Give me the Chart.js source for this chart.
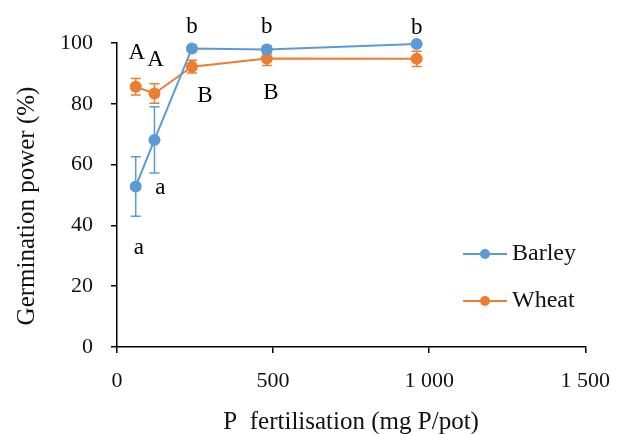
<!DOCTYPE html>
<html>
<head>
<meta charset="utf-8">
<script src="https://cdn.jsdelivr.net/npm/chart.js@4"></script>
<style>
  html, body { margin: 0; padding: 0; background: #fff; }
  #wrap { width: 625px; height: 434px; }
</style>
</head>
<body>
<div id="wrap"><canvas id="germ" width="625" height="434"></canvas></div>
<script>
// P doses (mg P/pot) and germination power (%), mean ± error
const doses = [60, 120, 240, 480, 960];
const barley = [52.8, 68.1, 98.2, 97.9, 99.7];
const barleyErr = [9.8, 10.9, 1.0, 1.2, 0.6];
const wheat = [85.6, 83.4, 92.2, 94.9, 94.8];
const wheatErr = [2.7, 3.2, 2.1, 2.3, 2.5];
// significance letters
const barleyLetters = ["a", "a", "b", "b", "b"];
const wheatLetters = ["A", "A", "B", "B", ""];

const BLUE = "#5B9BD5";
const ORANGE = "#ED7D31";
const FONT = "'Liberation Serif', 'Times New Roman', serif";

const pts = ys => doses.map((x, i) => ({ x: x, y: ys[i] }));

// where each letter sits relative to its point (px)
const letterOffsets = {
  0: [[3, 61], [6, 48], [0, -22], [0, -22], [0, -16]],
  1: [[1, -34], [1, -34], [13, 29], [4, 34], [0, 0]]
};
const errs = { 0: barleyErr, 1: wheatErr };
const letters = { 0: barleyLetters, 1: wheatLetters };

const errorBars = {
  id: "errorBars",
  beforeDatasetsDraw(chart) {
    const ctx = chart.ctx;
    const y = chart.scales.y;
    chart.data.datasets.forEach((ds, di) => {
      const meta = chart.getDatasetMeta(di);
      ctx.save();
      ctx.strokeStyle = ds.borderColor;
      ctx.lineWidth = 1.5;
      meta.data.forEach((p, i) => {
        const e = errs[di][i];
        const top = y.getPixelForValue(ds.data[i].y + e);
        const bot = y.getPixelForValue(ds.data[i].y - e);
        ctx.beginPath();
        ctx.moveTo(p.x, top); ctx.lineTo(p.x, bot);
        ctx.moveTo(p.x - 5, top); ctx.lineTo(p.x + 5, top);
        ctx.moveTo(p.x - 5, bot); ctx.lineTo(p.x + 5, bot);
        ctx.stroke();
      });
      ctx.restore();
    });
  }
};

const letterLabels = {
  id: "letterLabels",
  afterDatasetsDraw(chart) {
    const ctx = chart.ctx;
    ctx.save();
    ctx.fillStyle = "#000";
    ctx.font = "23px " + FONT;
    ctx.textAlign = "center";
    ctx.textBaseline = "middle";
    chart.data.datasets.forEach((ds, di) => {
      chart.getDatasetMeta(di).data.forEach((p, i) => {
        const t = letters[di][i];
        if (!t) return;
        const off = letterOffsets[di][i];
        ctx.fillText(t, p.x + off[0], p.y + off[1]);
      });
    });
    ctx.restore();
  }
};

// y title sits a little below the axis middle, so it is drawn by hand
const yTitle = {
  id: "yTitle",
  afterDraw(chart) {
    const ctx = chart.ctx;
    ctx.save();
    ctx.translate(27, 206);
    ctx.rotate(-Math.PI / 2);
    ctx.font = "25px " + FONT;
    ctx.fillStyle = "#111";
    ctx.textAlign = "center";
    ctx.textBaseline = "middle";
    ctx.fillText("Germination power (%)", 0, 0);
    ctx.restore();
  }
};

// legend drawn inside the plot, lower right
const innerLegend = {
  id: "innerLegend",
  afterDraw(chart) {
    const ctx = chart.ctx;
    const x0 = 463, x1 = 507, rows = [254, 301];
    ctx.save();
    ctx.font = "24px " + FONT;
    ctx.textBaseline = "middle";
    chart.data.datasets.forEach((ds, di) => {
      const yy = rows[di];
      ctx.strokeStyle = ds.borderColor;
      ctx.lineWidth = 2;
      ctx.beginPath();
      ctx.moveTo(x0, yy); ctx.lineTo(x1, yy);
      ctx.stroke();
      ctx.fillStyle = ds.borderColor;
      ctx.beginPath();
      ctx.arc((x0 + x1) / 2, yy, 5, 0, Math.PI * 2);
      ctx.fill();
      ctx.fillStyle = "#111";
      ctx.fillText(ds.label, x1 + 5, yy);
    });
    ctx.restore();
  }
};

new Chart(document.getElementById("germ"), {
  type: "line",
  data: {
    datasets: [
      {
        label: "Barley",
        data: pts(barley),
        borderColor: BLUE,
        backgroundColor: BLUE,
        borderWidth: 2,
        pointRadius: 5,
        pointHoverRadius: 5,
        tension: 0,
        clip: false
      },
      {
        label: "Wheat",
        data: pts(wheat),
        borderColor: ORANGE,
        backgroundColor: ORANGE,
        borderWidth: 2,
        pointRadius: 5,
        pointHoverRadius: 5,
        tension: 0,
        clip: false
      }
    ]
  },
  options: {
    responsive: false,
    animation: false,
    events: [],
    layout: { padding: { top: 43, right: 38, left: 0, bottom: 0 } },
    plugins: {
      legend: { display: false },
      tooltip: { enabled: false }
    },
    scales: {
      x: {
        type: "linear",
        min: 0,
        max: 1500,
        afterFit: s => { s.height = 87; },
        border: { display: true, color: "#000", width: 1.5 },
        grid: { drawOnChartArea: false, drawTicks: true, tickLength: 6, color: "#000", lineWidth: 1.5 },
        ticks: {
          stepSize: 500,
          padding: 15,
          color: "#111",
          font: { family: FONT, size: 22 },
          maxRotation: 0,
          callback: v => v >= 1000 ? Math.floor(v / 1000) + " " + String(v % 1000).padStart(3, "0") : String(v)
        },
        title: {
          display: true,
          text: "P  fertilisation (mg P/pot)",
          color: "#111",
          font: { family: FONT, size: 25 },
          padding: { top: 0, bottom: -3 }
        }
      },
      y: {
        min: 0,
        max: 100,
        afterFit: s => { s.width = 117; },
        border: { display: true, color: "#000", width: 1.5 },
        grid: { drawOnChartArea: false, drawTicks: true, tickLength: 6, color: "#000", lineWidth: 1.5 },
        ticks: {
          stepSize: 20,
          padding: 18,
          color: "#111",
          font: { family: FONT, size: 22 }
        },
        title: { display: false }
      }
    }
  },
  plugins: [errorBars, letterLabels, yTitle, innerLegend]
});
</script>
</body>
</html>
